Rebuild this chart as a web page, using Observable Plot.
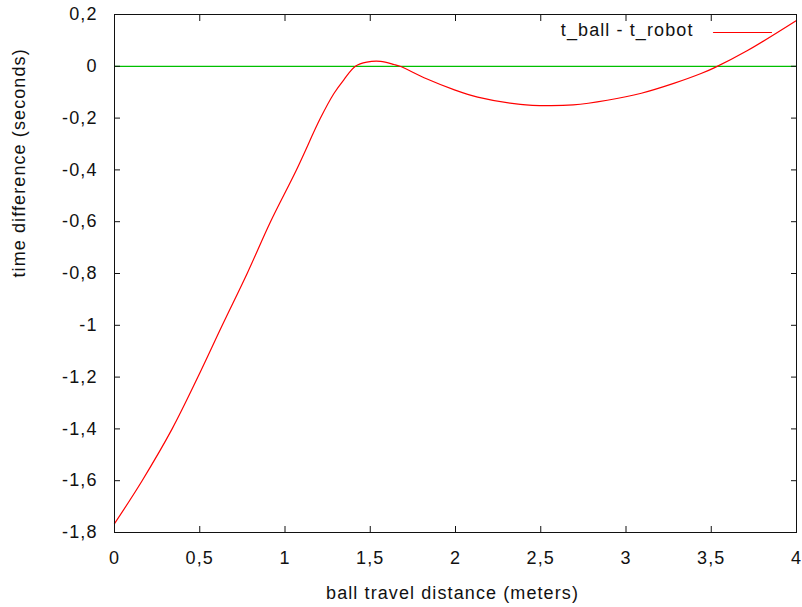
<!DOCTYPE html>
<html><head><meta charset="utf-8">
<script src="https://cdn.jsdelivr.net/npm/d3@7"></script>
<script src="https://cdn.jsdelivr.net/npm/@observablehq/plot@0.6"></script>
<style>html,body{margin:0;padding:0;background:#fff} svg{display:block;font-family:'Liberation Sans',Arial,sans-serif;letter-spacing:1.1px}</style>
</head><body><div id="chart"></div>
<script>
// distance (m) and time difference t_ball - t_robot (s)
const distance = [0, 0.162, 0.338, 0.489, 0.632, 0.778, 0.915, 1.067, 1.208, 1.286, 1.345, 1.413, 1.48, 1.56, 1.64, 1.675, 1.83, 1.99, 2.13, 2.38, 2.54, 2.69, 2.89, 3.09, 3.28, 3.44, 3.52, 3.71, 4.0];
const timeDiff = [-1.766, -1.6, -1.4, -1.2, -1.0, -0.8, -0.6, -0.4, -0.2, -0.106, -0.052, 0, 0.016, 0.019, 0.007, 0, -0.048, -0.09, -0.119, -0.147, -0.152, -0.149, -0.131, -0.104, -0.066, -0.028, -0.005, 0.06, 0.177];
const zeroLine = [0];
const xTicks = [0, 0.5, 1, 1.5, 2, 2.5, 3, 3.5, 4];
const yTicks = [-1.8, -1.6, -1.4, -1.2, -1, -0.8, -0.6, -0.4, -0.2, 0, 0.2];
const legendLabel = "t_ball - t_robot";
const xLabel = "ball travel distance (meters)";
const yLabel = "time difference (seconds)";

const TICK = 6;
const data = distance.map((d, i) => ({distance: d, diff: timeDiff[i]}));
const fmt = v => String(v).replace(".", ",");
const blank = () => "";
const ink = "#111";
const lineShape = {draw(context, l) { context.moveTo(0, 0); context.lineTo(0, -l); }};

const chart = Plot.plot({
  width: 802, height: 607,
  marginLeft: 114, marginRight: 6, marginTop: 14, marginBottom: 75,
  style: {fontSize: "18px"},
  x: {domain: [0, 4]},
  y: {domain: [-1.8, 0.2]},
  marks: [
    Plot.ruleY(zeroLine, {stroke: "#00c000", strokeWidth: 1.3}),
    Plot.line(data, {x: "distance", y: "diff", stroke: "#ff0000", strokeWidth: 1.2, curve: "catmull-rom"}),
    // inward ticks on all four sides (gnuplot mirror ticks): outward ticks shifted inside
    Plot.axisX({anchor: "bottom", ticks: xTicks, tickSize: TICK, dy: -TICK, tickFormat: blank, label: null, stroke: ink}),
    Plot.axisX({anchor: "top", ticks: xTicks, tickSize: TICK, dy: TICK, tickFormat: blank, label: null, stroke: ink}),
    Plot.axisY({anchor: "left", ticks: yTicks, tickSize: TICK, dx: TICK, tickFormat: blank, label: null, stroke: ink}),
    Plot.axisY({anchor: "right", ticks: yTicks, tickSize: TICK, dx: -TICK, tickFormat: blank, label: null, stroke: ink}),
    Plot.frame({stroke: ink}),
    Plot.axisX({ticks: xTicks, tickSize: 0, tickPadding: 19, tickFormat: fmt, label: null, fill: ink}),
    Plot.axisY({ticks: yTicks, tickSize: 0, tickPadding: 17, tickFormat: fmt, label: null, fill: ink}),
    Plot.text([xLabel], {frameAnchor: "bottom", dx: -3, dy: 61, lineAnchor: "middle", fill: ink}),
    Plot.text([yLabel], {frameAnchor: "left", rotate: -90, dx: -95, dy: 4, lineAnchor: "middle", fill: ink}),
    Plot.text([legendLabel], {frameAnchor: "top-right", textAnchor: "end", dx: -103, dy: 16, lineAnchor: "middle", fill: ink}),
    Plot.vector([legendLabel], {frameAnchor: "top-right", dx: -25, dy: 18, length: 58, rotate: -90, anchor: "start", shape: lineShape, stroke: "#ff0000", strokeWidth: 1.2})
  ]
});
document.getElementById("chart").append(chart);
</script>
</body></html>
